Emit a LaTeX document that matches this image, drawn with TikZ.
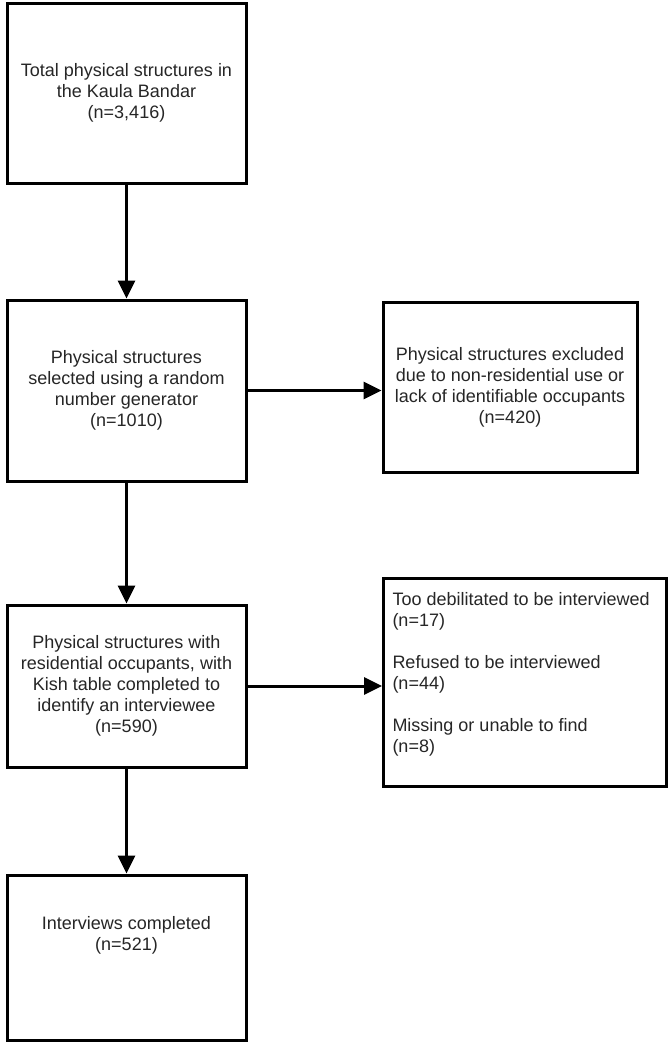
\documentclass[tikz,border=0pt]{standalone}
\usepackage{fontspec}
\setmainfont{Liberation Sans}
\usetikzlibrary{arrows.meta}
\begin{document}
\begin{tikzpicture}[x=1pt,y=-1pt,
  box/.style={draw=black, line width=3pt, align=center, inner sep=0pt,
    font=\fontsize{18}{21}\selectfont, text=black!85},
  arr/.style={line width=3pt, -{Triangle[length=18pt,width=17pt]}}]
\useasboundingbox (0,0) rectangle (669,1050);
\fill[white] (0,0) rectangle (669,1050);
\node[box, minimum width=239pt, minimum height=180pt] (b1) at (126.5,93)
  {Total physical structures in\\the Kaula Bandar\\(n=3,416)};
\node[box, minimum width=239pt, minimum height=181pt] (b2) at (126.5,390.5)
  {Physical structures\\selected using a random\\number generator\\(n=1010)};
\node[box, minimum width=254pt, minimum height=170pt] (b3) at (510,387)
  {Physical structures excluded\\due to non-residential use or\\lack of identifiable occupants\\(n=420)};
\node[box, minimum width=239pt, minimum height=162pt] (b4) at (126.5,686)
  {Physical structures with\\residential occupants, with\\Kish table completed to\\identify an interviewee\\(n=590)};
\node[box, anchor=north west, align=left] (b5) at (382,577)
  {\parbox[t][208pt][t]{283pt}{\leftskip=9pt\vspace*{14pt}%
   Too debilitated to be interviewed\\(n=17)\\[21pt]Refused to be interviewed\\(n=44)\\[21pt]Missing or unable to find\\(n=8)}};
\node[box, minimum width=239pt, minimum height=165pt] (b6) at (126.5,957.5)
  {Interviews completed\\(n=521)\\[21pt]\strut};
\draw[arr] (b1.south) -- (b2.north);
\draw[arr] (b2.east) -- (b2.east -| b3.west);
\draw[arr] (b2.south) -- (b4.north);
\draw[arr] (b4.east) -- (b4.east -| b5.west);
\draw[arr] (b4.south) -- (b6.north);
\end{tikzpicture}
\end{document}
